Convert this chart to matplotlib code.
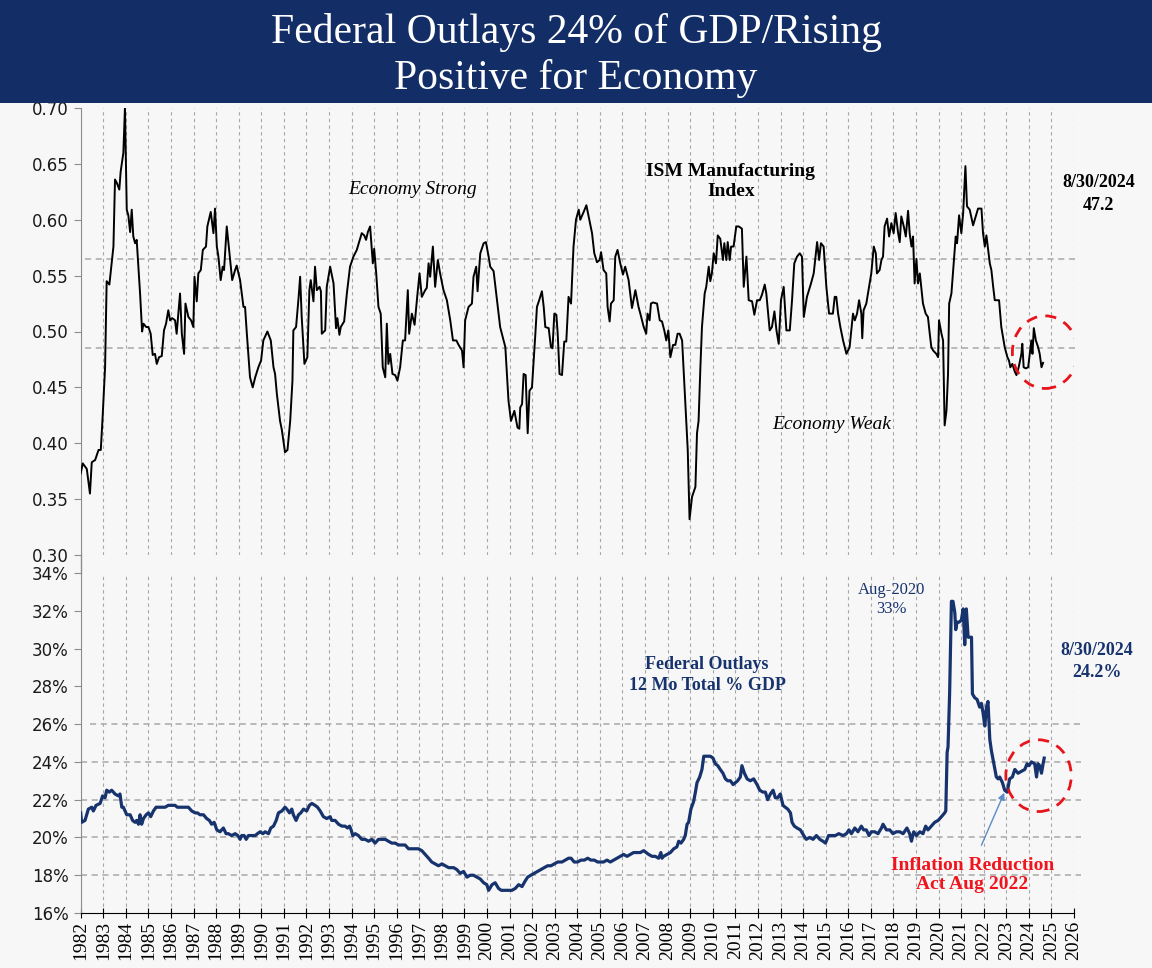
import numpy as np
import matplotlib.pyplot as plt
from matplotlib.patches import Ellipse, Rectangle
from matplotlib.lines import Line2D
from matplotlib.ticker import FuncFormatter

# ============================================================
# DATA (decimal years)
# ============================================================

ism_t = [
    1982.00, 1982.09, 1982.27, 1982.41, 1982.49, 1982.64, 1982.79, 1982.89, 1982.97, 1983.08,
    1983.15, 1983.27, 1983.37, 1983.45, 1983.52, 1983.60, 1983.71, 1983.77, 1983.89, 1983.96,
    1984.04, 1984.11, 1984.19, 1984.26, 1984.33, 1984.41, 1984.48, 1984.63, 1984.72, 1984.78,
    1984.90, 1985.00, 1985.10, 1985.19, 1985.29, 1985.37, 1985.47, 1985.59, 1985.69, 1985.78,
    1985.88, 1985.96, 1986.05, 1986.18, 1986.25, 1986.40, 1986.48, 1986.58, 1986.64, 1986.77,
    1986.89, 1986.99, 1987.04, 1987.14, 1987.21, 1987.32, 1987.41, 1987.55, 1987.61, 1987.76,
    1987.88, 1987.95, 1988.03, 1988.10, 1988.20, 1988.29, 1988.35, 1988.47, 1988.62, 1988.71,
    1988.84, 1988.91, 1989.06, 1989.21, 1989.28, 1989.36, 1989.50, 1989.62, 1989.73, 1989.87,
    1989.99, 1990.09, 1990.27, 1990.42, 1990.54, 1990.61, 1990.69, 1990.83, 1990.91, 1991.05,
    1991.16, 1991.28, 1991.38, 1991.42, 1991.54, 1991.65, 1991.72, 1991.79, 1991.91, 1992.04,
    1992.13, 1992.19, 1992.31, 1992.38, 1992.46, 1992.58, 1992.64, 1992.68, 1992.83, 1992.90,
    1993.05, 1993.20, 1993.31, 1993.37, 1993.46, 1993.52, 1993.67, 1993.79, 1993.93, 1994.08,
    1994.23, 1994.45, 1994.56, 1994.64, 1994.72, 1994.82, 1994.94, 1995.00, 1995.09, 1995.19,
    1995.29, 1995.38, 1995.49, 1995.56, 1995.63, 1995.71, 1995.81, 1995.93, 1996.03, 1996.15,
    1996.27, 1996.37, 1996.49, 1996.55, 1996.67, 1996.79, 1996.92, 1997.01, 1997.11, 1997.26,
    1997.33, 1997.41, 1997.48, 1997.60, 1997.70, 1997.82, 1997.92, 1998.07, 1998.22, 1998.37,
    1998.49, 1998.64, 1998.74, 1998.89, 1998.96, 1999.03, 1999.18, 1999.33, 1999.40, 1999.52,
    1999.58, 1999.70, 1999.85, 1999.95, 2000.07, 2000.14, 2000.29, 2000.44, 2000.51, 2000.58,
    2000.81, 2000.95, 2001.06, 2001.21, 2001.35, 2001.43, 2001.47, 2001.55, 2001.62, 2001.71,
    2001.80, 2001.88, 2001.99, 2002.14, 2002.21, 2002.31, 2002.43, 2002.51, 2002.58, 2002.73,
    2002.83, 2002.90, 2002.98, 2003.07, 2003.13, 2003.21, 2003.32, 2003.42, 2003.51, 2003.61,
    2003.72, 2003.83, 2003.94, 2004.06, 2004.13, 2004.28, 2004.40, 2004.50, 2004.65, 2004.75,
    2004.87, 2004.99, 2005.05, 2005.16, 2005.28, 2005.34, 2005.43, 2005.49, 2005.61, 2005.68,
    2005.78, 2005.90, 2006.02, 2006.12, 2006.27, 2006.42, 2006.57, 2006.71, 2006.79, 2006.94,
    2007.05, 2007.11, 2007.20, 2007.26, 2007.35, 2007.53, 2007.65, 2007.75, 2007.85, 2007.94,
    2008.03, 2008.12, 2008.24, 2008.34, 2008.44, 2008.53, 2008.64, 2008.78, 2008.89, 2008.97,
    2009.08, 2009.23, 2009.30, 2009.37, 2009.45, 2009.52, 2009.64, 2009.71, 2009.82, 2009.89,
    2009.96, 2010.04, 2010.14, 2010.22, 2010.33, 2010.45, 2010.51, 2010.60, 2010.66, 2010.75,
    2010.81, 2010.92, 2011.04, 2011.15, 2011.29, 2011.37, 2011.49, 2011.59, 2011.74, 2011.84,
    2011.96, 2012.08, 2012.18, 2012.30, 2012.37, 2012.52, 2012.62, 2012.73, 2012.82, 2012.92,
    2013.02, 2013.14, 2013.26, 2013.41, 2013.51, 2013.61, 2013.73, 2013.85, 2013.95, 2014.03,
    2014.17, 2014.35, 2014.47, 2014.62, 2014.71, 2014.79, 2014.91, 2015.03, 2015.15, 2015.32,
    2015.40, 2015.47, 2015.55, 2015.65, 2015.77, 2015.92, 2016.06, 2016.21, 2016.29, 2016.39,
    2016.48, 2016.58, 2016.62, 2016.68, 2016.80, 2016.92, 2017.02, 2017.13, 2017.22, 2017.27,
    2017.39, 2017.47, 2017.54, 2017.61, 2017.72, 2017.81, 2017.91, 2018.01, 2018.10, 2018.21,
    2018.28, 2018.35, 2018.46, 2018.55, 2018.65, 2018.72, 2018.80, 2018.87, 2018.94, 2019.02,
    2019.09, 2019.17, 2019.31, 2019.43, 2019.53, 2019.61, 2019.68, 2019.76, 2019.90, 2019.98,
    2020.02, 2020.13, 2020.20, 2020.27, 2020.35, 2020.42, 2020.47, 2020.57, 2020.67, 2020.76,
    2020.82, 2020.91, 2021.01, 2021.09, 2021.19, 2021.26, 2021.38, 2021.53, 2021.65, 2021.75,
    2021.90, 2021.97, 2022.05, 2022.12, 2022.27, 2022.34, 2022.42, 2022.49, 2022.68, 2022.78,
    2022.93, 2023.05, 2023.12, 2023.18, 2023.27, 2023.38, 2023.45, 2023.55, 2023.67, 2023.71,
    2023.77, 2023.86, 2023.97, 2024.04, 2024.11, 2024.16, 2024.22, 2024.31, 2024.41, 2024.48,
    2024.56, 2024.63,
]

ism_v = [
    0.373, 0.382, 0.377, 0.355, 0.383, 0.385, 0.394, 0.394, 0.423, 0.468,
    0.545, 0.542, 0.561, 0.576, 0.636, 0.633, 0.627, 0.643, 0.660, 0.700,
    0.609, 0.604, 0.589, 0.609, 0.585, 0.579, 0.582, 0.534, 0.500, 0.507,
    0.504, 0.504, 0.498, 0.479, 0.480, 0.471, 0.477, 0.478, 0.501, 0.507,
    0.519, 0.510, 0.512, 0.510, 0.498, 0.534, 0.498, 0.480, 0.525, 0.513,
    0.510, 0.504, 0.549, 0.527, 0.552, 0.555, 0.573, 0.576, 0.594, 0.607,
    0.588, 0.610, 0.576, 0.567, 0.546, 0.558, 0.555, 0.594, 0.564, 0.546,
    0.555, 0.559, 0.546, 0.522, 0.522, 0.498, 0.459, 0.450, 0.459, 0.468,
    0.474, 0.492, 0.500, 0.492, 0.468, 0.462, 0.444, 0.420, 0.412, 0.392,
    0.394, 0.420, 0.456, 0.501, 0.504, 0.530, 0.549, 0.513, 0.471, 0.477,
    0.537, 0.546, 0.527, 0.558, 0.537, 0.540, 0.536, 0.498, 0.501, 0.540,
    0.558, 0.543, 0.503, 0.512, 0.497, 0.504, 0.509, 0.534, 0.558, 0.567,
    0.573, 0.588, 0.586, 0.582, 0.589, 0.594, 0.561, 0.574, 0.552, 0.522,
    0.516, 0.468, 0.459, 0.507, 0.471, 0.480, 0.462, 0.461, 0.456, 0.468,
    0.492, 0.492, 0.537, 0.498, 0.516, 0.506, 0.534, 0.552, 0.531, 0.537,
    0.539, 0.561, 0.549, 0.576, 0.540, 0.564, 0.552, 0.537, 0.528, 0.510,
    0.492, 0.492, 0.488, 0.483, 0.468, 0.510, 0.522, 0.525, 0.549, 0.558,
    0.536, 0.570, 0.579, 0.580, 0.567, 0.558, 0.554, 0.528, 0.516, 0.504,
    0.486, 0.438, 0.420, 0.429, 0.414, 0.413, 0.432, 0.435, 0.462, 0.461,
    0.409, 0.447, 0.450, 0.498, 0.522, 0.528, 0.536, 0.522, 0.504, 0.503,
    0.486, 0.485, 0.516, 0.515, 0.498, 0.462, 0.461, 0.491, 0.491, 0.531,
    0.525, 0.576, 0.600, 0.609, 0.600, 0.607, 0.613, 0.603, 0.588, 0.570,
    0.562, 0.564, 0.571, 0.555, 0.552, 0.522, 0.509, 0.525, 0.528, 0.567,
    0.573, 0.561, 0.551, 0.558, 0.546, 0.521, 0.537, 0.522, 0.516, 0.504,
    0.498, 0.516, 0.510, 0.525, 0.526, 0.525, 0.510, 0.509, 0.501, 0.492,
    0.501, 0.477, 0.488, 0.488, 0.498, 0.498, 0.492, 0.438, 0.394, 0.332,
    0.352, 0.361, 0.409, 0.420, 0.468, 0.504, 0.534, 0.540, 0.558, 0.545,
    0.552, 0.570, 0.561, 0.586, 0.583, 0.564, 0.579, 0.564, 0.580, 0.564,
    0.576, 0.576, 0.594, 0.594, 0.592, 0.540, 0.567, 0.528, 0.527, 0.515,
    0.528, 0.528, 0.533, 0.542, 0.534, 0.501, 0.504, 0.518, 0.501, 0.489,
    0.528, 0.540, 0.501, 0.501, 0.528, 0.561, 0.567, 0.570, 0.567, 0.513,
    0.531, 0.543, 0.552, 0.580, 0.564, 0.579, 0.576, 0.540, 0.516, 0.516,
    0.531, 0.531, 0.516, 0.504, 0.492, 0.480, 0.486, 0.516, 0.510, 0.516,
    0.528, 0.516, 0.494, 0.519, 0.525, 0.540, 0.552, 0.576, 0.570, 0.552,
    0.555, 0.564, 0.567, 0.594, 0.601, 0.585, 0.597, 0.588, 0.606, 0.588,
    0.580, 0.603, 0.594, 0.585, 0.608, 0.588, 0.576, 0.585, 0.543, 0.565,
    0.543, 0.552, 0.525, 0.516, 0.513, 0.498, 0.486, 0.483, 0.480, 0.477,
    0.510, 0.498, 0.492, 0.416, 0.429, 0.462, 0.525, 0.534, 0.561, 0.585,
    0.579, 0.604, 0.588, 0.606, 0.648, 0.612, 0.609, 0.595, 0.603, 0.610,
    0.610, 0.588, 0.576, 0.586, 0.561, 0.555, 0.540, 0.528, 0.528, 0.504,
    0.486, 0.477, 0.474, 0.468, 0.471, 0.464, 0.461, 0.468, 0.480, 0.489,
    0.468, 0.467, 0.468, 0.480, 0.492, 0.480, 0.503, 0.492, 0.486, 0.480,
    0.468, 0.472,
]

outlays_t = [
    1982.00, 1982.04, 1982.19, 1982.34, 1982.49, 1982.56, 1982.68, 1982.86, 1982.97, 1983.08,
    1983.15, 1983.27, 1983.37, 1983.45, 1983.52, 1983.67, 1983.74, 1983.82, 1983.89, 1984.04,
    1984.19, 1984.30, 1984.41, 1984.48, 1984.56, 1984.63, 1984.70, 1984.78, 1984.90, 1985.00,
    1985.10, 1985.22, 1985.34, 1985.44, 1985.59, 1985.74, 1985.88, 1986.03, 1986.18, 1986.28,
    1986.40, 1986.55, 1986.67, 1986.77, 1986.92, 1987.07, 1987.17, 1987.29, 1987.44, 1987.58,
    1987.70, 1987.80, 1987.91, 1988.03, 1988.17, 1988.32, 1988.44, 1988.54, 1988.69, 1988.84,
    1988.96, 1989.06, 1989.13, 1989.24, 1989.33, 1989.43, 1989.58, 1989.73, 1989.83, 1989.95,
    1990.07, 1990.17, 1990.32, 1990.42, 1990.54, 1990.66, 1990.76, 1990.91, 1991.05, 1991.13,
    1991.25, 1991.35, 1991.42, 1991.54, 1991.65, 1991.75, 1991.87, 1992.01, 1992.13, 1992.24,
    1992.38, 1992.49, 1992.61, 1992.75, 1992.90, 1993.05, 1993.12, 1993.27, 1993.42, 1993.57,
    1993.71, 1993.82, 1993.91, 1993.98, 1994.05, 1994.16, 1994.30, 1994.45, 1994.60, 1994.75,
    1994.90, 1995.04, 1995.19, 1995.34, 1995.49, 1995.63, 1995.78, 1995.93, 1996.08, 1996.22,
    1996.37, 1996.52, 1996.67, 1996.82, 1996.96, 1997.11, 1997.26, 1997.41, 1997.55, 1997.70,
    1997.85, 1998.00, 1998.30, 1998.52, 1998.66, 1998.81, 1998.96, 1999.11, 1999.26, 1999.40,
    1999.55, 1999.70, 1999.85, 1999.99, 2000.07, 2000.22, 2000.36, 2000.51, 2000.63, 2000.81,
    2000.95, 2001.10, 2001.25, 2001.40, 2001.55, 2001.69, 2001.80, 2001.94, 2002.09, 2002.24,
    2002.39, 2002.53, 2002.68, 2002.83, 2002.98, 2003.13, 2003.32, 2003.47, 2003.61, 2003.72,
    2003.86, 2004.01, 2004.16, 2004.31, 2004.46, 2004.60, 2004.75, 2004.90, 2005.05, 2005.16,
    2005.31, 2005.46, 2005.61, 2005.75, 2005.90, 2006.05, 2006.20, 2006.35, 2006.49, 2006.64,
    2006.79, 2006.94, 2007.05, 2007.16, 2007.31, 2007.45, 2007.60, 2007.70, 2007.75, 2007.82,
    2007.97, 2008.12, 2008.27, 2008.41, 2008.49, 2008.59, 2008.71, 2008.78, 2008.86, 2008.93,
    2009.03, 2009.15, 2009.23, 2009.30, 2009.42, 2009.52, 2009.60, 2009.74, 2009.89, 2010.01,
    2010.11, 2010.22, 2010.33, 2010.45, 2010.56, 2010.66, 2010.78, 2010.90, 2011.00, 2011.10,
    2011.22, 2011.29, 2011.40, 2011.52, 2011.66, 2011.81, 2011.96, 2012.08, 2012.22, 2012.33,
    2012.43, 2012.55, 2012.67, 2012.77, 2012.87, 2012.99, 2013.11, 2013.21, 2013.32, 2013.44,
    2013.51, 2013.61, 2013.73, 2013.88, 2014.03, 2014.14, 2014.29, 2014.44, 2014.59, 2014.74,
    2014.88, 2014.99, 2015.13, 2015.28, 2015.43, 2015.58, 2015.77, 2015.92, 2016.03, 2016.14,
    2016.29, 2016.43, 2016.58, 2016.68, 2016.80, 2016.92, 2017.02, 2017.17, 2017.32, 2017.47,
    2017.54, 2017.69, 2017.84, 2017.98, 2018.13, 2018.28, 2018.43, 2018.60, 2018.72, 2018.80,
    2018.90, 2019.02, 2019.17, 2019.31, 2019.43, 2019.53, 2019.68, 2019.83, 2019.98, 2020.13,
    2020.27, 2020.32, 2020.38, 2020.42, 2020.49, 2020.57, 2020.64, 2020.72, 2020.76, 2020.82,
    2020.91, 2021.01, 2021.09, 2021.16, 2021.23, 2021.31, 2021.38, 2021.46, 2021.50, 2021.60,
    2021.71, 2021.82, 2021.90, 2021.97, 2022.05, 2022.12, 2022.19, 2022.27, 2022.34, 2022.42,
    2022.56, 2022.64, 2022.71, 2022.83, 2022.93, 2023.04, 2023.15, 2023.27, 2023.38, 2023.52,
    2023.67, 2023.82, 2023.92, 2024.01, 2024.11, 2024.26, 2024.34, 2024.41, 2024.48, 2024.56,
    2024.63, 2024.68,
]

outlays_v = [
    21.3, 20.8, 20.9, 21.5, 21.6, 21.4, 21.7, 21.8, 22.2, 22.1,
    22.5, 22.4, 22.5, 22.4, 22.3, 22.2, 22.3, 21.6, 21.6, 21.2,
    21.2, 20.9, 20.8, 20.9, 20.7, 21.2, 20.7, 21.0, 21.2, 21.3,
    21.1, 21.4, 21.6, 21.6, 21.6, 21.6, 21.7, 21.7, 21.7, 21.6,
    21.6, 21.6, 21.6, 21.6, 21.4, 21.3, 21.3, 21.2, 21.2, 21.0,
    20.9, 20.7, 20.8, 20.4, 20.3, 20.5, 20.2, 20.2, 20.1, 20.2,
    20.1, 19.9, 20.1, 20.1, 19.9, 20.1, 20.1, 20.1, 20.2, 20.3,
    20.2, 20.3, 20.2, 20.5, 20.6, 20.9, 21.3, 21.4, 21.6, 21.5,
    21.3, 21.5, 21.2, 20.9, 21.2, 21.3, 21.5, 21.4, 21.7, 21.8,
    21.7, 21.6, 21.4, 21.1, 21.0, 21.1, 20.9, 20.9, 20.7, 20.6,
    20.6, 20.5, 20.6, 20.4, 20.1, 20.2, 20.1, 19.9, 19.9, 19.8,
    19.9, 19.7, 19.9, 19.9, 19.9, 19.8, 19.7, 19.7, 19.6, 19.6,
    19.6, 19.4, 19.4, 19.4, 19.4, 19.3, 19.1, 18.9, 18.7, 18.6,
    18.5, 18.6, 18.4, 18.4, 18.3, 18.1, 18.2, 17.9, 18.0, 18.0,
    17.9, 17.8, 17.6, 17.5, 17.2, 17.5, 17.6, 17.3, 17.2, 17.2,
    17.2, 17.2, 17.3, 17.5, 17.4, 17.7, 17.9, 18.0, 18.1, 18.2,
    18.3, 18.4, 18.5, 18.5, 18.6, 18.7, 18.7, 18.8, 18.9, 18.9,
    18.7, 18.7, 18.8, 18.8, 18.9, 18.8, 18.8, 18.7, 18.7, 18.7,
    18.8, 18.7, 18.8, 18.9, 19.0, 19.1, 19.0, 19.1, 19.2, 19.2,
    19.2, 19.3, 19.2, 19.1, 19.0, 19.0, 18.9, 19.2, 18.9, 19.0,
    19.1, 19.2, 19.4, 19.5, 19.8, 19.7, 19.9, 20.1, 20.7, 20.8,
    21.5, 21.9, 22.4, 22.9, 23.2, 23.6, 24.3, 24.3, 24.3, 24.2,
    23.9, 23.8, 23.6, 23.4, 23.1, 23.0, 23.0, 22.8, 22.9, 23.0,
    23.2, 23.8, 23.4, 23.1, 23.0, 23.1, 22.8, 22.5, 22.4, 22.4,
    22.0, 22.3, 22.5, 22.1, 22.1, 22.3, 21.7, 21.6, 21.5, 21.3,
    20.8, 20.6, 20.5, 20.4, 20.1, 19.9, 20.0, 19.9, 20.1, 19.9,
    19.8, 19.7, 20.1, 20.1, 20.1, 20.2, 20.1, 20.2, 20.4, 20.2,
    20.5, 20.3, 20.6, 20.4, 20.4, 20.1, 20.3, 20.3, 20.2, 20.5,
    20.7, 20.4, 20.4, 20.2, 20.3, 20.3, 20.2, 20.5, 20.2, 19.8,
    20.3, 20.1, 20.3, 20.2, 20.6, 20.4, 20.6, 20.8, 20.9, 21.1,
    21.3, 21.4, 24.5, 24.8, 27.6, 32.5, 32.5, 31.9, 31.0, 31.4,
    31.4, 31.5, 32.1, 30.2, 32.1, 30.6, 30.6, 30.6, 27.6, 27.4,
    27.3, 26.9, 27.1, 26.6, 25.9, 26.9, 27.2, 25.2, 24.6, 24.1,
    23.2, 23.1, 23.2, 22.9, 22.5, 22.4, 23.1, 23.2, 23.6, 23.4,
    23.5, 23.6, 23.9, 23.8, 24.0, 23.9, 23.2, 23.9, 23.8, 23.4,
    23.9, 24.2,
]

years = list(range(1982, 2027))
ism_ticks = [0.30, 0.35, 0.40, 0.45, 0.50, 0.55, 0.60, 0.65, 0.70]
outlay_ticks = [16, 18, 20, 22, 24, 26, 28, 30, 32, 34]
ism_ref_lines = [0.565, 0.485]
outlay_ref_lines = [18, 20, 22, 24, 26]

# ============================================================
# STYLE
# ============================================================

bg = "#f7f7f7"
navy = "#132e66"
line_navy = "#17336e"
grid_col = "#a8a8a8"
serif = "Liberation Serif"

fig = plt.figure(figsize=(11.52, 9.68), dpi=100, facecolor=bg)

# title banner
fig.add_artist(Rectangle((0, 1 - 103 / 968), 1, 103 / 968, transform=fig.transFigure,
                         facecolor=navy, edgecolor="none"))
fig.text(0.5, 1 - 33 / 968, "Federal Outlays 24% of GDP/Rising", color="white",
         family=serif, fontsize=30, ha="center", va="center")
fig.text(0.5, 1 - 79 / 968, "Positive for Economy", color="white",
         family=serif, fontsize=30, ha="center", va="center")

left = 80.7 / 1152
width = (1074 - 80.7) / 1152
ax1 = fig.add_axes([left, 1 - 555 / 968, width, (555 - 108) / 968], facecolor=bg)
ax2 = fig.add_axes([left, 1 - 913 / 968, width, (913 - 573) / 968], facecolor=bg)

# left spine continuity between the panels
fig.add_artist(Line2D([left, left], [1 - 573 / 968, 1 - 555 / 968],
                      transform=fig.transFigure, color="#8c8c8c", lw=1))

for ax in (ax1, ax2):
    ax.set_xlim(1982, 2026)
    for yr in years:
        ax.axvline(yr, color=grid_col, lw=0.8, ls=(0, (3, 3)), zorder=0)
    ax.spines["top"].set_visible(False)
    ax.spines["right"].set_visible(False)
    ax.spines["left"].set_color("#8c8c8c")
    ax.tick_params(axis="y", direction="out", length=5, color="#8c8c8c",
                   labelsize=12, labelcolor="#1a1a1a")

# ============================================================
# TOP PANEL: ISM
# ============================================================

ax1.plot(ism_t, ism_v, color="black", lw=1.4, zorder=3)
ax1.set_ylim(0.30, 0.70)
ax1.set_yticks(ism_ticks)
ax1.yaxis.set_major_formatter(FuncFormatter(lambda v, p: f"{v:.2f}"))
ax1.spines["bottom"].set_visible(False)
ax1.set_xticks([])
for y in ism_ref_lines:
    ax1.hlines(y, 1982.2, 2026.2, color=grid_col, lw=1.1, ls=(0, (4, 3)),
               zorder=1, clip_on=False)

ax1.add_patch(Ellipse((2024.72, 0.4815), 2.9, 0.065, fill=False, ec="#e8141b",
                      lw=2, ls=(0, (4, 3)), zorder=4))

ax1.text(1996.7, 0.627, "Economy Strong", family=serif, style="italic",
         fontsize=14, ha="center", va="center")
ax1.text(2010.8, 0.634, "ISM Manufacturing\nIndex", family=serif, weight="bold",
         fontsize=14, ha="center", va="center", linespacing=1.2)
ax1.text(2015.25, 0.417, "Economy Weak", family=serif, style="italic",
         fontsize=14, ha="center", va="center")
ax1.text(2027.1, 0.623, "8/30/2024\n47.2", family=serif, weight="bold",
         fontsize=13, ha="center", va="center", linespacing=1.4)

# ============================================================
# BOTTOM PANEL: FEDERAL OUTLAYS
# ============================================================

ax2.plot(outlays_t, outlays_v, color=line_navy, lw=2.3, zorder=3)
ax2.set_ylim(16, 34)
ax2.set_yticks(outlay_ticks)
ax2.set_yticklabels([f"{v}%" for v in outlay_ticks])
ax2.spines["bottom"].set_color("black")
ax2.set_xticks(years)
ax2.set_xticklabels([str(y) for y in years], rotation=90, family=serif, fontsize=14)
ax2.tick_params(axis="x", direction="inout", length=7, color="black", pad=2)
for y in outlay_ref_lines:
    ax2.hlines(y, 1982.4 if y == 26 else 1982, 2026.3, color=grid_col, lw=1.1,
               ls=(0, (4, 3)), zorder=1, clip_on=False)

ax2.add_patch(Ellipse((2024.43, 23.27), 2.9, 3.8, fill=False, ec="#e8141b",
                      lw=2, ls=(0, (4, 3)), zorder=4))

ax2.text(2017.9, 32.6, "Aug-2020\n33%", family=serif, color=line_navy,
         fontsize=12, ha="center", va="center", linespacing=1.2)
ax2.text(2009.75, 28.6, "Federal Outlays\n12 Mo Total % GDP", family=serif,
         weight="bold", color=line_navy, fontsize=13, ha="center", va="center",
         linespacing=1.3)
ax2.text(2027.0, 29.3, "8/30/2024\n24.2%", family=serif, weight="bold",
         color=line_navy, fontsize=13, ha="center", va="center", linespacing=1.4)
ax2.text(2021.5, 18.0, "Inflation Reduction\nAct Aug 2022", family=serif,
         weight="bold", color="#f0141c", fontsize=14, ha="center", va="center",
         linespacing=1.15)
ax2.annotate("", xy=(2022.96, 22.5), xytext=(2021.85, 19.45),
             arrowprops=dict(arrowstyle="-|>", color="#5b8cc8", lw=1,
                             mutation_scale=10))

fig.savefig("out.png", dpi=100, facecolor=bg)
